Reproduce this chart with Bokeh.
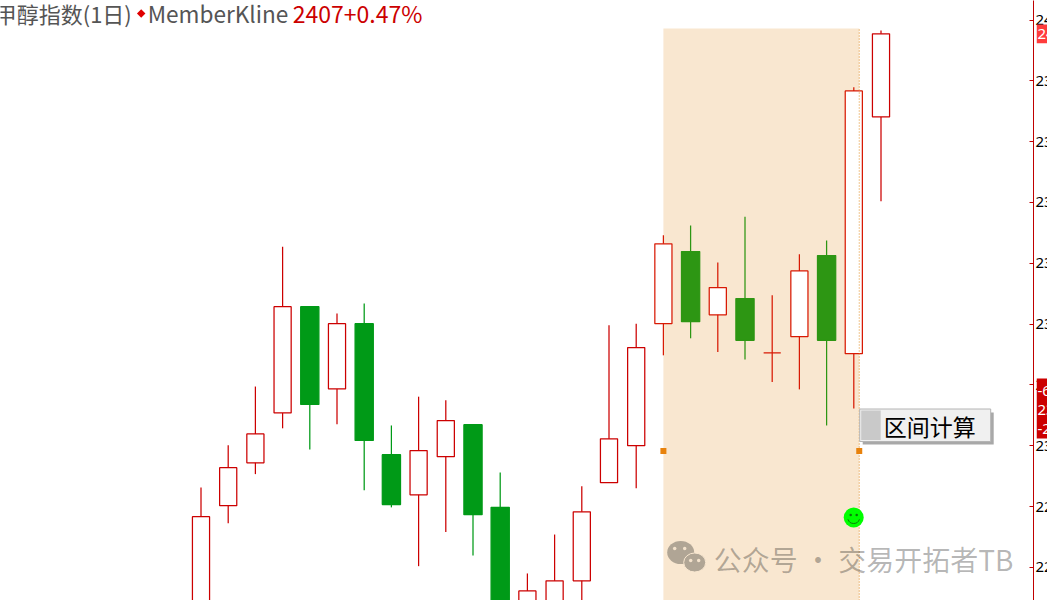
import math
from bokeh.plotting import figure
from bokeh.embed import file_html
from bokeh.resources import INLINE
from bokeh.core.properties import value
from bokeh.models import Range1d, LinearAxis, FixedTicker

# candles, index 0..25; red: close above open, green: close below open
opens  = [2262.0,2290.2,2300.8,2313.1,2339.3,2319.0,2335.1,2302.8,2292.9,2302.3,2310.2,2289.8,2262.0,2262.0,2271.7,2295.9,2305.0,2335.1,2352.9,2337.3,2341.3,2327.9,2331.9,2351.9,2327.7,2386.1]
closes = [2287.5,2299.6,2307.9,2339.3,2315.2,2335.1,2306.3,2290.5,2303.8,2311.2,2288.0,2265.0,2269.2,2271.7,2288.7,2306.7,2329.2,2354.8,2335.6,2344.0,2331.0,2327.9,2348.1,2331.0,2392.5,2406.6]
highs  = [2294.7,2305.1,2319.6,2354.1,2339.3,2337.6,2340.1,2310.0,2317.1,2316.2,2310.2,2298.4,2273.5,2283.1,2295.0,2334.7,2335.1,2356.9,2359.3,2350.2,2361.5,2342.1,2352.2,2355.6,2393.4,2407.4]
lows   = [2258.0,2285.9,2298.0,2309.3,2304.1,2310.3,2294.0,2289.8,2275.3,2283.7,2277.9,2262.0,2258.0,2258.0,2262.0,2295.9,2294.5,2327.3,2331.5,2328.1,2326.3,2320.7,2318.9,2310.0,2314.2,2365.3]
tick_values = [2410,2395,2380,2365,2350,2335,2320,2305,2290,2275]
band_start, band_end = 17, 24.2
tag_last = ["2407"]
tag_box = ["-6", "23", "-2"]

RED, RED_B = "#cc0000", "#d81a04"
GREEN, GREEN_B = "#009a17", "#2d9613"

# page pixel -> data helpers for the interface parts of the picture
PX0, PXS = 201.3, 27.2
PY0, PYS = 19.5, 15 / 60.82
X = lambda px: (px - PX0) / PXS
Y = lambda py: 2410 - (py - PY0) * PYS

p = figure(width=1047, height=600, frame_width=1033, frame_height=600,
           output_backend="svg", toolbar_location=None, min_border=0,
           x_range=Range1d(X(0.8), X(1033.8)), y_range=Range1d(Y(600), Y(0)),
           x_axis_type=None, y_axis_type=None, outline_line_color=None)
p.xgrid.visible = False
p.ygrid.visible = False

axis = LinearAxis(ticker=FixedTicker(ticks=tick_values), axis_line_color="#c00000",
                  major_tick_line_color="#c00000", major_tick_in=4, major_tick_out=0,
                  minor_tick_line_color=None, major_label_standoff=2,
                  major_label_text_font="Noto Sans", major_label_text_font_size="15px",
                  major_label_text_color="#000000")
p.add_layout(axis, "right")

# selected interval
p.quad(left=[band_start], right=[band_end], bottom=[Y(600)], top=[Y(28)], fill_color="#f9e7d0", line_color=None)

idx = list(range(len(opens)))
inband = [band_start <= i <= band_end for i in idx]
up = [c >= o for o, c in zip(opens, closes)]
colors = [((RED_B if b else RED) if u else (GREEN_B if b else GREEN)) for u, b in zip(up, inband)]
fills = ["#ffffff" if u else col for u, col in zip(up, colors)]
p.segment(x0=idx, x1=idx, y0=lows, y1=highs, line_color=colors, line_width=1.25)
w = [0.63 if u else 0.67 for u in up]
p.vbar(x=idx, width=w, bottom=[min(a, b) for a, b in zip(opens, closes)],
       top=[max(a, b) for a, b in zip(opens, closes)], fill_color=fills, line_color=colors, line_width=1.25)

# interval edge
p.segment(x0=[band_end], x1=[band_end], y0=[Y(600)], y1=[Y(28)], line_color="#e08a1e", line_width=1, line_dash="1 2")
p.scatter(x=[band_start, band_end], y=[Y(450.5)] * 2, marker="square", size=6, fill_color="#e8820c", line_color=None)

# watermark
p.ellipse(x=[X(681)], y=[Y(552)], width=[27 / PXS], height=[23 * PYS], fill_color="#b0a595", line_color=None)
p.ellipse(x=[X(695)], y=[Y(562)], width=[22 / PXS], height=[19 * PYS], fill_color="#b0a595", line_color="#f9e7d0", line_width=1)
p.scatter(x=[X(675), X(685), X(691), X(699)], y=[Y(548), Y(548), Y(560), Y(560)], marker="circle", size=3.5, fill_color="#f3e2cc", line_color=None)
p.text(x=[X(714)], y=[Y(558)], text=["公众号 · 交易开拓者TB"], text_font=value("Noto Sans CJK SC"), text_font_size="28px",
       text_color="#000000", text_alpha=0.29, text_baseline="middle", text_align="left")

# smiley
p.scatter(x=[X(854)], y=[Y(517)], marker="circle", size=20, fill_color="#00ff00", line_color=None)
p.scatter(x=[X(851), X(857)], y=[Y(514.5)] * 2, marker="circle", size=2.5, fill_color="#0a7a0a", line_color=None)
p.arc(x=[X(854)], y=[Y(517)], radius=6, radius_units="screen", start_angle=3.45, end_angle=5.97, line_color="#0a7a0a", line_width=1)

# button
p.quad(left=[X(863)], right=[X(994)], top=[Y(412)], bottom=[Y(444)], fill_color="#a8a8a8", line_color=None)
p.quad(left=[X(860)], right=[X(991)], top=[Y(408.5)], bottom=[Y(441)], fill_color="#f0f0f0", line_color="#b4b4b4", line_width=1)
p.quad(left=[X(861.5)], right=[X(881)], top=[Y(410)], bottom=[Y(439.5)], fill_color="#c9c9c9", line_color=None)
p.text(x=[X(884)], y=[Y(425.5)], text=["区间计算"], text_font=value("Noto Sans CJK SC"), text_font_size="23px",
       text_color="#000000", text_baseline="middle", text_align="left")

# title
title_font = value("Noto Sans CJK SC")
p.text(x=[X(-5)], y=[Y(12.5)], text=["甲醇指数(1日)"], text_font=title_font, text_font_size="22px",
       text_color="#555555", text_baseline="middle", text_align="left")
p.scatter(x=[X(141.5)], y=[Y(13)], marker="square", angle=math.pi / 4, size=6, fill_color="#e00000", line_color=None)
p.text(x=[X(148)], y=[Y(12.5)], text=["MemberKline"], text_font=title_font, text_font_size="22.6px",
       text_color="#555555", text_baseline="middle", text_align="left")
p.text(x=[X(293)], y=[Y(12.5)], text=["2407+0.47%"], text_font=title_font, text_font_size="23px",
       text_color="#cc0000", text_baseline="middle", text_align="left")

# price tags sit over the axis labels, in a small figure of their own on the same price scale
tags = figure(width=11, height=600, output_backend="svg", toolbar_location=None, min_border=0,
              x_range=Range1d(0, 11), y_range=Range1d(Y(600), Y(0)),
              x_axis_type=None, y_axis_type=None, outline_line_color=None, background_fill_alpha=0, border_fill_alpha=0)
tags.xgrid.visible = False
tags.ygrid.visible = False
tags.styles = {"position": "absolute", "left": "1036px", "top": "0px"}
tags.quad(left=[0, 0], right=[11, 11], top=[Y(24), Y(378)], bottom=[Y(42.7), Y(438)],
          fill_color=["#ff3c3c", "#cc0000"], line_color=None)
tag_texts = tag_last + tag_box
tag_ys = [Y(33), Y(390), Y(409), Y(428)]
tags.text(x=[1] * 4, y=tag_ys, text=tag_texts, text_font=value("Noto Sans"), text_font_size="15px",
          text_color="#ffffff", text_baseline="middle", text_align="left")

open("out.html", "w").write(file_html([p, tags], INLINE))
